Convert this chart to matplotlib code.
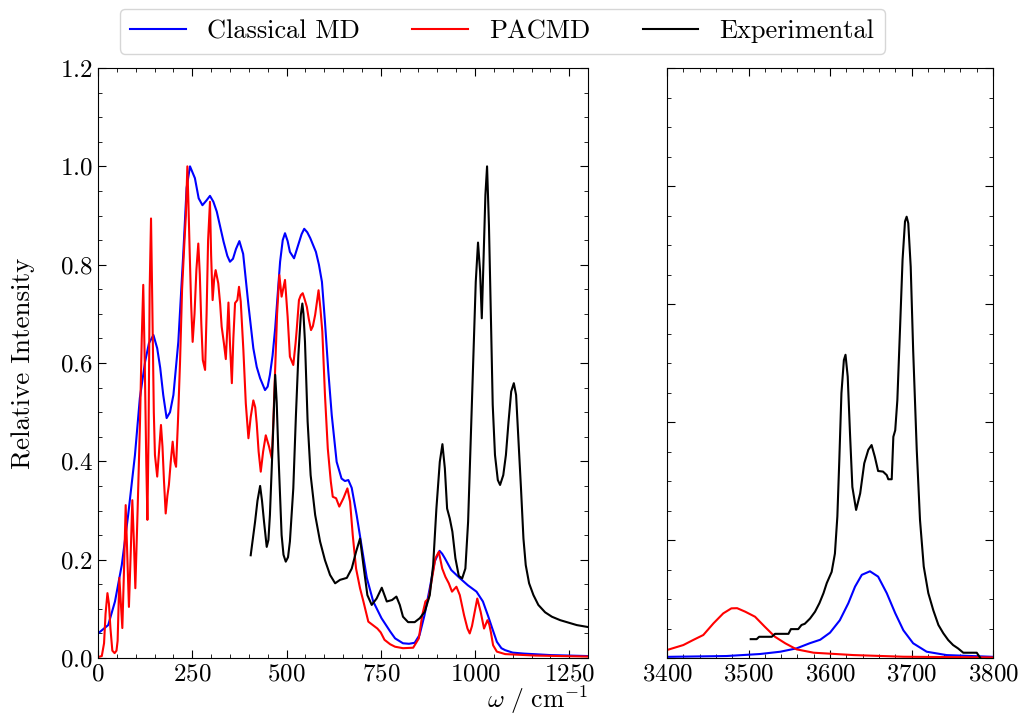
import matplotlib
matplotlib.use("Agg")
import matplotlib.pyplot as plt
from matplotlib.ticker import MultipleLocator

plt.rcParams["font.family"] = "serif"
plt.rcParams["font.serif"] = ["cmr10", "DejaVu Serif"]
plt.rcParams["mathtext.fontset"] = "cm"
plt.rcParams["axes.formatter.use_mathtext"] = True

# low-frequency region (0 - 1300 cm^-1)
md_x = [0, 27, 45, 63, 80, 98, 111, 125, 135, 147, 157, 165, 173, 182, 191, 200, 213, 226,
        235, 244, 257, 267, 277, 287, 297, 306, 315, 333, 343, 350, 358, 366, 375, 385, 392,
        399, 412, 421, 430, 443, 450, 456, 463, 470, 483, 490, 496, 503, 509, 520, 531, 540,
        547, 555, 563, 578, 586, 594, 602, 611, 620, 633, 646, 655, 664, 673, 686, 700, 713,
        730, 752, 775, 788, 809, 825, 840, 853, 866, 880, 893, 906, 913, 920, 937, 959, 981,
        1004, 1021, 1035, 1045, 1058, 1070, 1080, 1100, 1130, 1200, 1300]
md_y = [0.050, 0.067, 0.115, 0.189, 0.291, 0.413, 0.529, 0.603, 0.640, 0.657, 0.630, 0.590,
        0.535, 0.488, 0.500, 0.535, 0.643, 0.820, 0.956, 1.000, 0.976, 0.935, 0.921, 0.930,
        0.940, 0.928, 0.908, 0.847, 0.818, 0.806, 0.812, 0.832, 0.848, 0.822, 0.770, 0.718,
        0.630, 0.592, 0.569, 0.545, 0.552, 0.576, 0.615, 0.671, 0.806, 0.850, 0.864, 0.848,
        0.826, 0.813, 0.840, 0.862, 0.873, 0.866, 0.854, 0.826, 0.800, 0.765, 0.684, 0.582,
        0.494, 0.399, 0.365, 0.360, 0.362, 0.346, 0.291, 0.224, 0.163, 0.115, 0.081, 0.054,
        0.040, 0.030, 0.029, 0.031, 0.047, 0.087, 0.142, 0.196, 0.218, 0.212, 0.203, 0.179,
        0.163, 0.148, 0.135, 0.115, 0.085, 0.062, 0.033, 0.020, 0.016, 0.011, 0.009, 0.006,
        0.004]

pacmd_x = [0, 10, 16, 20, 25, 29, 33, 38, 44, 49, 52, 56.6, 60, 64.5, 69, 73.4, 78, 82, 87,
           91, 95, 99, 105, 111.4, 116, 120, 124, 128, 131, 134, 137, 140.6, 144, 148, 151,
           157, 162, 167, 171, 175, 179.5, 184, 188, 193, 198, 203, 207, 212, 217.6, 223, 229,
           233, 237, 240, 243, 247, 251, 256, 261, 266, 270, 274, 278, 284, 288, 292, 297,
           300, 304, 308, 312, 319, 324, 328, 334, 339, 343, 346, 350, 355, 359, 363.5, 369.6,
           374, 378.6, 385.6, 392, 399, 405, 412, 417, 421, 426, 431.7, 438, 445, 453.7, 461,
           465, 470, 475, 481, 487, 491, 496, 503, 509, 518, 524, 527, 533, 538, 543, 548,
           554, 559, 565, 570, 576, 580, 585, 590, 595, 602, 609.5, 617.5, 622.7, 631.5, 640,
           651, 661.5, 668.6, 675.7, 684.5, 695, 704, 717, 729, 741, 750, 760, 775, 788, 809,
           836, 851, 860, 868.5, 877, 886, 895, 904, 913, 921.6, 930.5, 939, 950.7, 959.7,
           971, 980, 986, 992, 997.6, 1006, 1015, 1024, 1033, 1038, 1042, 1048, 1058, 1080,
           1160, 1300]
pacmd_y = [0.002, 0.004, 0.030, 0.090, 0.132, 0.110, 0.060, 0.015, 0.010, 0.015, 0.035,
           0.163, 0.120, 0.061, 0.180, 0.311, 0.200, 0.104, 0.220, 0.321, 0.240, 0.142, 0.300,
           0.481, 0.650, 0.759, 0.600, 0.400, 0.281, 0.450, 0.750, 0.894, 0.720, 0.500, 0.413,
           0.369, 0.420, 0.474, 0.430, 0.360, 0.294, 0.330, 0.352, 0.400, 0.440, 0.400, 0.389,
           0.480, 0.603, 0.750, 0.843, 0.900, 1.000, 0.920, 0.830, 0.720, 0.643, 0.700, 0.790,
           0.843, 0.780, 0.680, 0.606, 0.586, 0.700, 0.850, 0.928, 0.820, 0.728, 0.770, 0.789,
           0.762, 0.720, 0.674, 0.640, 0.608, 0.670, 0.723, 0.640, 0.559, 0.650, 0.722, 0.728,
           0.755, 0.725, 0.626, 0.518, 0.447, 0.490, 0.524, 0.510, 0.477, 0.420, 0.379, 0.420,
           0.453, 0.430, 0.406, 0.480, 0.592, 0.700, 0.779, 0.735, 0.750, 0.769, 0.694, 0.613,
           0.596, 0.640, 0.667, 0.728, 0.738, 0.742, 0.730, 0.714, 0.690, 0.667, 0.675, 0.698,
           0.720, 0.748, 0.710, 0.664, 0.535, 0.426, 0.359, 0.328, 0.325, 0.308, 0.325, 0.345,
           0.318, 0.250, 0.182, 0.142, 0.115, 0.074, 0.067, 0.060, 0.052, 0.037, 0.028, 0.023,
           0.020, 0.021, 0.040, 0.087, 0.115, 0.121, 0.162, 0.203, 0.216, 0.182, 0.165, 0.152,
           0.135, 0.145, 0.128, 0.087, 0.060, 0.050, 0.065, 0.087, 0.121, 0.094, 0.060, 0.077,
           0.068, 0.053, 0.026, 0.013, 0.008, 0.005, 0.003]

exp_x = [405, 416.6, 423, 430, 435, 440.4, 447.5, 452, 456, 463.5, 470, 474, 478, 487, 492,
         498, 504, 509, 518, 525, 531.5, 538, 542, 545, 549, 556, 564, 576, 589, 602, 615.5,
         629, 642, 660, 673, 684.5, 695, 704, 714.5, 726, 739, 752.7, 766, 780, 791.5, 800.5,
         809, 822.5, 840, 853.5, 866.7, 880, 889, 897.6, 906.6, 913.6, 920, 926, 933, 940,
         948, 957, 966, 974.5, 981.7, 988.8, 995.8, 1002, 1008, 1013.5, 1018, 1023, 1027.6,
         1032, 1037, 1042, 1047, 1053, 1060.5, 1066.5, 1075, 1082, 1089, 1096, 1103, 1109,
         1115, 1122, 1128.5, 1134.6, 1143.5, 1155, 1168, 1186, 1204, 1226, 1248, 1270, 1300]
exp_y = [0.209, 0.277, 0.320, 0.350, 0.320, 0.277, 0.226, 0.240, 0.291, 0.440, 0.576, 0.520,
         0.426, 0.250, 0.210, 0.196, 0.205, 0.237, 0.345, 0.494, 0.616, 0.698, 0.721, 0.700,
         0.643, 0.481, 0.372, 0.291, 0.237, 0.199, 0.169, 0.152, 0.159, 0.163, 0.182, 0.216,
         0.243, 0.189, 0.128, 0.108, 0.121, 0.143, 0.115, 0.118, 0.125, 0.108, 0.084, 0.073,
         0.073, 0.081, 0.094, 0.128, 0.189, 0.304, 0.399, 0.435, 0.386, 0.304, 0.284, 0.257,
         0.203, 0.167, 0.162, 0.182, 0.277, 0.447, 0.616, 0.765, 0.845, 0.786, 0.691, 0.820,
         0.942, 1.000, 0.880, 0.700, 0.515, 0.413, 0.362, 0.352, 0.372, 0.413, 0.481, 0.542,
         0.559, 0.535, 0.447, 0.345, 0.243, 0.189, 0.152, 0.128, 0.108, 0.093, 0.084, 0.077,
         0.072, 0.067, 0.063]

# O-H stretch region (3400 - 3800 cm^-1)
md_hi_x = [3400, 3473, 3514, 3539, 3559, 3575, 3588, 3600, 3612, 3622.5, 3630.7, 3639, 3649,
           3659, 3669.6, 3680, 3690, 3702, 3718.6, 3743, 3800]
md_hi_y = [0.002, 0.0034, 0.0068, 0.0107, 0.0164, 0.025, 0.031, 0.043, 0.064, 0.093, 0.121,
           0.141, 0.147, 0.138, 0.110, 0.076, 0.047, 0.025, 0.0107, 0.005, 0.002]

pacmd_hi_x = [3400, 3420, 3432, 3444.5, 3457, 3469, 3479, 3486, 3496, 3508, 3520, 3532.5,
              3545, 3559, 3580, 3629, 3690, 3800]
pacmd_hi_y = [0.0136, 0.022, 0.0305, 0.039, 0.0588, 0.0757, 0.0842, 0.0845, 0.0785, 0.070,
              0.053, 0.036, 0.025, 0.0147, 0.009, 0.005, 0.0022, 0.001]

exp_hi_x = [3502.7, 3510, 3513, 3528.5, 3532.5, 3549, 3552, 3561, 3565, 3569, 3575.5, 3581.6,
            3587, 3592, 3596, 3602, 3606, 3609, 3611.4, 3614, 3617, 3619, 3621.7, 3624.5,
            3627.4, 3632, 3637, 3642, 3647, 3651, 3655, 3659, 3665, 3669.6, 3671.5, 3675.7,
            3677.7, 3680, 3682.6, 3686, 3689, 3692, 3694, 3696, 3699, 3702, 3706.4, 3710.4,
            3715, 3720.6, 3726.7, 3733, 3739, 3745, 3751, 3757, 3763.5, 3780, 3784]
exp_hi_y = [0.032, 0.032, 0.036, 0.036, 0.041, 0.041, 0.049, 0.049, 0.056, 0.058, 0.067,
            0.0785, 0.093, 0.110, 0.127, 0.146, 0.177, 0.240, 0.336, 0.449, 0.505, 0.514,
            0.477, 0.381, 0.290, 0.251, 0.279, 0.330, 0.353, 0.361, 0.341, 0.317, 0.316, 0.310,
            0.303, 0.303, 0.375, 0.386, 0.437, 0.562, 0.675, 0.740, 0.748, 0.737, 0.663, 0.522,
            0.353, 0.234, 0.155, 0.110, 0.081, 0.056, 0.042, 0.0305, 0.022, 0.0164, 0.009,
            0.009, 0.001]

labels = ["Classical MD", "PACMD", "Experimental"]
colors = ["blue", "red", "black"]

fig = plt.figure(figsize=(10.21, 7.19), dpi=100)
ax1 = fig.add_axes([0.096, 0.0848, 0.480, 0.8206])
ax2 = fig.add_axes([0.6533, 0.0848, 0.3193, 0.8206])

for x, y, c, lab in zip([md_x, pacmd_x, exp_x], [md_y, pacmd_y, exp_y], colors, labels):
    ax1.plot(x, y, color=c, lw=1.5, label=lab)
for x, y, c in zip([md_hi_x, pacmd_hi_x, exp_hi_x], [md_hi_y, pacmd_hi_y, exp_hi_y], colors):
    ax2.plot(x, y, color=c, lw=1.5)

ax1.set_xlim(0, 1300)
ax1.set_ylim(0, 1.2)
ax1.xaxis.set_major_locator(MultipleLocator(250))
ax1.xaxis.set_minor_locator(MultipleLocator(50))
ax1.yaxis.set_major_locator(MultipleLocator(0.2))
ax1.yaxis.set_minor_locator(MultipleLocator(0.05))
ax1.set_ylabel("Relative Intensity", fontsize=19.5, labelpad=18)
ax1.set_xlabel(r"$\omega\ /\ \mathrm{cm}^{-1}$", fontsize=18.5, loc="right", labelpad=-1)

ax2.set_xlim(3400, 3800)
ax2.set_ylim(0, 1.0)
ax2.xaxis.set_major_locator(MultipleLocator(100))
ax2.xaxis.set_minor_locator(MultipleLocator(20))
ax2.yaxis.set_major_locator(MultipleLocator(0.2))
ax2.yaxis.set_minor_locator(MultipleLocator(0.05))
ax2.tick_params(axis="y", labelleft=False)

for ax in (ax1, ax2):
    ax.tick_params(which="both", direction="in", top=True, right=True, labelsize=18)
    ax.tick_params(which="major", length=5.5)
    ax.tick_params(which="minor", length=3)

fig.legend(loc="upper center", bbox_to_anchor=(0.492, 1.006), ncol=3, fontsize=19,
           handlelength=2.1, columnspacing=2.0, fancybox=True)

fig.savefig("out.png", dpi=100)
